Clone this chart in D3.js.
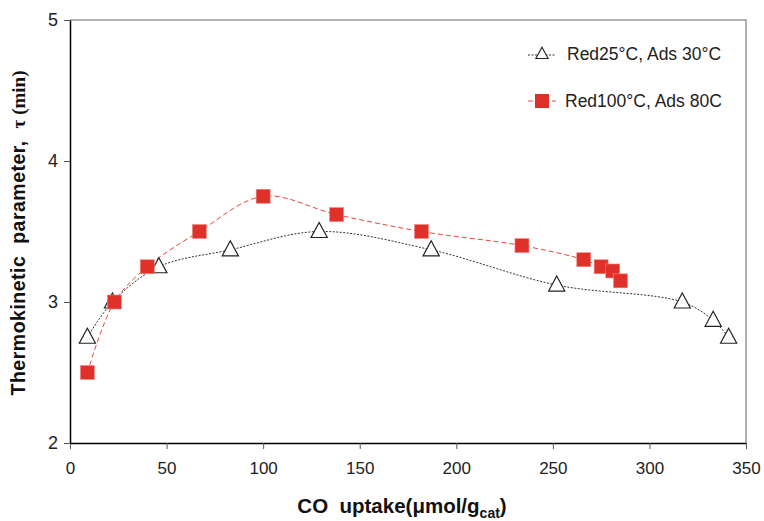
<!DOCTYPE html>
<html>
<head>
<meta charset="utf-8">
<script src="https://cdn.jsdelivr.net/npm/d3@7"></script>
<style>
  body { margin: 0; background: #fff; }
  svg { font-family: "Liberation Sans", Arial, sans-serif; }
</style>
</head>
<body>
<div id="chart"></div>
<script>
var width = 764
var height = 521
var margin = { top: 20, right: 18, bottom: 78, left: 70 }

// Red 25°C, Ads 30°C  (open triangles)
var uptake25 = [9, 22, 46, 83, 129, 187, 252, 317, 333, 341]
var tau25 = [2.75, 3.0, 3.25, 3.37, 3.5, 3.37, 3.12, 3.0, 2.87, 2.75]

// Red 100°C, Ads 80C  (red squares)
var uptake100 = [9, 23, 40, 67, 100, 138, 182, 234, 266, 275, 281, 285]
var tau100 = [2.5, 3.0, 3.25, 3.5, 3.75, 3.62, 3.5, 3.4, 3.3, 3.25, 3.22, 3.15]

var xTicks = [0, 50, 100, 150, 200, 250, 300, 350]
var yTicks = [2, 3, 4, 5]

var series25 = uptake25.map((x, i) => ({ x: x, y: tau25[i] }))
var series100 = uptake100.map((x, i) => ({ x: x, y: tau100[i] }))

var svg = d3.select("#chart")
  .append("svg")
  .attr("width", width)
  .attr("height", height)

var xScale = d3.scaleLinear()
  .domain([0, 350])
  .range([margin.left, width - margin.right])

var yScale = d3.scaleLinear()
  .domain([2, 5])
  .range([height - margin.bottom, margin.top])

// frame: gray top and right
svg.append("path")
  .attr("d", `M${xScale(0)},${yScale(5)}H${xScale(350)}V${yScale(2)}`)
  .style("fill", "none")
  .style("stroke", "#999")
  .style("stroke-width", 1.5)

// X axis
var xAxis = d3.axisBottom(xScale)
  .tickValues(xTicks)
  .tickSize(6)
  .tickSizeOuter(0)
  .tickFormat(d3.format("d"))

svg.append("g")
  .attr("transform", `translate(0,${yScale(2)})`)
  .attr("class", "x-axis")
  .call(xAxis)
  .call(g => g.select(".domain").style("stroke", "#000").style("stroke-width", 1.5))
  .call(g => g.selectAll(".tick line").style("stroke", "#555"))
  .selectAll(".tick text")
  .attr("dy", "1.3em")
  .style("font-size", "17px")
  .style("fill", "#222")

// Y axis
var yAxis = d3.axisLeft(yScale)
  .tickValues(yTicks)
  .tickSize(6)
  .tickSizeOuter(0)
  .tickFormat(d3.format("d"))

svg.append("g")
  .attr("transform", `translate(${xScale(0)},0)`)
  .attr("class", "y-axis")
  .call(yAxis)
  .call(g => g.select(".domain").style("stroke", "#000").style("stroke-width", 1.5))
  .call(g => g.selectAll(".tick line").style("stroke", "#555"))
  .selectAll(".tick text")
  .attr("x", -12)
  .style("font-size", "18px")
  .style("fill", "#222")

// Y label
var yLabel = svg.append("text")
  .attr("text-anchor", "middle")
  .attr("transform", `translate(25,${233}) rotate(-90)`)
  .style("font-size", "19.5px")
  .style("font-weight", "bold")
  .style("letter-spacing", "0.5px")
  .style("fill", "#111")
yLabel.append("tspan").text("Thermokinetic\u00A0\u00A0parameter,\u00A0\u00A0")
yLabel.append("tspan")
  .style("font-family", "'Liberation Serif', 'Times New Roman', serif")
  .style("font-size", "19px")
  .style("letter-spacing", "0px")
  .text("\u03C4 (min)")

// X label
var xLabel = svg.append("text")
  .attr("text-anchor", "middle")
  .attr("x", 402)
  .attr("y", 513)
  .style("font-size", "20.5px")
  .style("font-weight", "bold")
  .style("fill", "#111")
xLabel.append("tspan").text("CO\u00A0\u00A0uptake(\u03BCmol/g")
xLabel.append("tspan").attr("dy", 5).style("font-size", "14px").text("cat")
xLabel.append("tspan").attr("dy", -5).text(")")

// lines
var line = d3.line()
  .x(d => xScale(d.x))
  .y(d => yScale(d.y))
  .curve(d3.curveCatmullRom.alpha(0.5))

svg.append("path")
  .datum(series25)
  .attr("class", "line s25")
  .attr("d", line)
  .style("fill", "none")
  .style("stroke", "#333")
  .style("stroke-width", 1)
  .style("stroke-dasharray", "2,1.5")

svg.append("path")
  .datum(series100)
  .attr("class", "line s100")
  .attr("d", line)
  .style("fill", "none")
  .style("stroke", "#e8463a")
  .style("stroke-width", 1)
  .style("stroke-dasharray", "5,3")

// slightly tall open triangle marker
var tallTriangle = {
  draw: function(context, size) {
    var h = Math.sqrt(size)
    context.moveTo(0, -h * 0.6)
    context.lineTo(h * 0.54, h * 0.4)
    context.lineTo(-h * 0.54, h * 0.4)
    context.closePath()
  }
}
var triangle = d3.symbol().type(tallTriangle).size(225)

svg.append("g")
  .selectAll("path")
  .data(series25)
  .enter()
  .append("path")
  .attr("d", triangle)
  .attr("transform", d => `translate(${xScale(d.x)},${yScale(d.y)})`)
  .style("fill", "#fff")
  .style("stroke", "#222")
  .style("stroke-width", 1.2)

svg.append("g")
  .selectAll("rect")
  .data(series100)
  .enter()
  .append("rect")
  .attr("x", d => xScale(d.x) - 7)
  .attr("y", d => yScale(d.y) - 7)
  .attr("width", 14)
  .attr("height", 14)
  .style("fill", "#e0302a")
  .style("stroke", "#f08a84")
  .style("stroke-width", 0.6)

// legend
var legend = svg.append("g").attr("class", "legend")

legend.append("line")
  .attr("x1", 528).attr("x2", 556)
  .attr("y1", 55).attr("y2", 55)
  .style("stroke", "#333")
  .style("stroke-dasharray", "2,1.5")
legend.append("path")
  .attr("d", d3.symbol().type(tallTriangle).size(130))
  .attr("transform", "translate(542,54)")
  .style("fill", "#fff")
  .style("stroke", "#222")
  .style("stroke-width", 1.1)
legend.append("text")
  .attr("x", 567).attr("y", 60)
  .style("font-size", "17.5px")
  .style("fill", "#222")
  .text("Red25\u00B0C, Ads 30\u00B0C")

legend.append("line")
  .attr("x1", 528).attr("x2", 556)
  .attr("y1", 101).attr("y2", 101)
  .style("stroke", "#e8463a")
  .style("stroke-dasharray", "5,3")
legend.append("rect")
  .attr("x", 535).attr("y", 94)
  .attr("width", 14).attr("height", 14)
  .style("fill", "#e0302a")
legend.append("text")
  .attr("x", 565).attr("y", 107)
  .style("font-size", "17.5px")
  .style("fill", "#222")
  .text("Red100\u00B0C, Ads 80C")
</script>
</body>
</html>
